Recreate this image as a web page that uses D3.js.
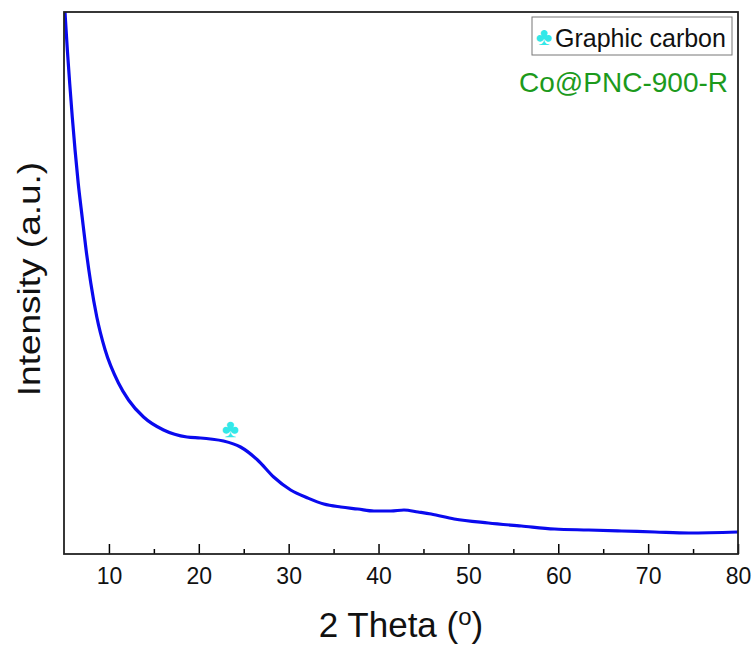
<!DOCTYPE html>
<html><head><meta charset="utf-8">
<script src="https://cdn.jsdelivr.net/npm/d3@7"></script>
<style>body{margin:0;background:#fff}svg{display:block}text{font-family:"Liberation Sans",Arial,sans-serif}</style>
</head><body>
<svg id="c" width="753" height="648"></svg>
<script>
// 2 Theta (degrees)
const twoTheta = [5.11,5.15,5.38,5.64,5.92,6.23,6.58,7.02,7.46,7.98,8.65,9.58,11.06,12.18,13.85,16.08,18.69,20.18,21.29,22.75,24.64,26.54,28.33,30.22,32.12,33.91,35.8,37.7,39.49,41.38,42.83,44.4,45.85,48.42,52.21,55.89,59.58,63.37,67.05,70.74,74.53,80.0];
// Intensity (a.u.)
const intensity = [5420,5360,5030,4700,4370,4040,3710,3370,3040,2710,2370,2040,1710,1540,1370,1240,1170,1160,1150,1130,1070,940,770,640,560,500,470,450,430,430,440,420,400,350,310,280,250,240,230,220,210,220];
const xTicks = [10,20,30,40,50,60,70,80];
const xMinorTicks = [15,25,35,45,55,65,75];
const peakX = [23.5];
const peakY = [1260];
const legendLabel = "Graphic carbon";
const sampleLabel = "Co@PNC-900-R";

const svg = d3.select("#c");
const L=64,R=738,T=12,B=554;
const x = d3.scaleLinear().domain([5,80]).range([L,R]);
const y = d3.scaleLinear().domain([0,5420]).range([B,T]);

svg.append("defs").append("clipPath").attr("id","clip")
  .append("rect").attr("x",L).attr("y",T).attr("width",R-L).attr("height",B-T);

const data = twoTheta.map((d,i)=>({x:d,y:intensity[i]}));
svg.append("path").datum(data)
  .attr("clip-path","url(#clip)")
  .attr("fill","none").attr("stroke","#0a0aee").attr("stroke-width",3.2)
  .attr("stroke-linejoin","round")
  .attr("d",d3.line().x(d=>x(d.x)).y(d=>y(d.y)).curve(d3.curveMonotoneX));

// peak marker
svg.selectAll("text.peak").data(peakX).enter().append("text")
  .attr("class","peak")
  .attr("x",d=>x(d)).attr("y",(d,i)=>y(peakY[i])+9)
  .attr("text-anchor","middle").attr("font-size",26).attr("fill","#33e8e8")
  .attr("font-family","DejaVu Sans").text("\u2663");

// x axis ticks (inward)
const ax = svg.append("g").attr("transform",`translate(0,${B})`)
  .call(d3.axisBottom(x).tickValues(xTicks).tickSize(-10).tickPadding(14).tickFormat(d3.format("d")));
ax.select(".domain").remove();
ax.selectAll(".tick line").attr("stroke","#000").attr("stroke-width",1.5);
ax.selectAll(".tick text").attr("font-size",23).attr("fill","#111")
  .attr("font-family","'Liberation Sans',Arial,sans-serif");
const axm = svg.append("g").attr("transform",`translate(0,${B})`)
  .call(d3.axisBottom(x).tickValues(xMinorTicks).tickSize(-5).tickFormat(""));
axm.select(".domain").remove();
axm.selectAll(".tick line").attr("stroke","#000").attr("stroke-width",1.5);

// frame
svg.append("rect").attr("x",L).attr("y",T).attr("width",R-L).attr("height",B-T)
  .attr("fill","none").attr("stroke","#222").attr("stroke-width",1.8);

// axis titles
const xt = svg.append("text").attr("x",(L+R)/2).attr("y",637).attr("text-anchor","middle")
  .attr("font-size",35).attr("fill","#111");
xt.append("tspan").text("2 Theta (");
xt.append("tspan").attr("font-size",24).attr("dy",-12).text("o");
xt.append("tspan").attr("dy",12).text(")");

svg.append("text").attr("transform",`translate(40,${(T+B)/2-4}) rotate(-90) scale(1,0.86)`)
  .attr("text-anchor","middle").attr("font-size",37).attr("fill","#111").text("Intensity (a.u.)");

// legend
svg.append("rect").attr("x",532).attr("y",17).attr("width",200).attr("height",38)
  .attr("fill","#fff").attr("stroke","#777").attr("stroke-width",1);
svg.append("text").attr("x",544).attr("y",45).attr("text-anchor","middle")
  .attr("font-size",25).attr("fill","#33e8e8").attr("font-family","DejaVu Sans").text("\u2663");
svg.append("text").attr("x",555).attr("y",47).attr("font-size",25).attr("fill","#111").text(legendLabel);

svg.append("text").attr("x",728).attr("y",92).attr("text-anchor","end")
  .attr("font-size",28).attr("fill","#1c9a1c").text(sampleLabel);
</script>
</body></html>
